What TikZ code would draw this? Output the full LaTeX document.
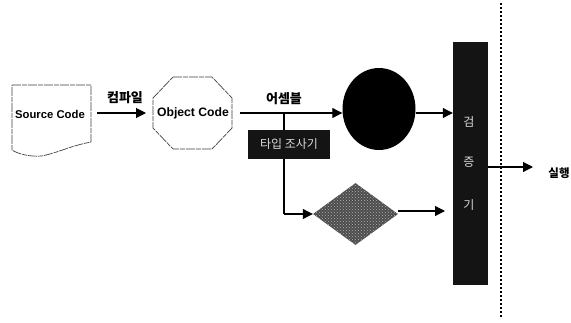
\documentclass[tikz,border=0pt]{standalone}
\usepackage{fontspec}
\setmainfont{Liberation Sans}
\newfontfamily\krfont{Noto Sans CJK KR}
\usetikzlibrary{arrows.meta,shapes.geometric,patterns}
\definecolor{dith}{gray}{0.30}
\tikzset{
  x=1pt,y=-1pt,
  conn/.style={draw=black,line width=1.1pt,-{Triangle[length=10pt,width=10pt]}},
  plainconn/.style={draw=black,line width=1.1pt},
  thinedge/.style={draw=black!75,line width=0.7pt,dash pattern=on 9pt off 1pt on 5pt off 1pt},
  lab/.style={font=\fontsize{11.4}{12}\selectfont\bfseries,inner sep=0pt},
  klab/.style={font=\krfont\fontsize{13}{14}\selectfont\bfseries,inner sep=0pt},
  barlab/.style={inner sep=0pt,text=white!85!black,font=\krfont\fontsize{12}{13}\selectfont},
}
\begin{document}
\begin{tikzpicture}
\useasboundingbox (0,0) rectangle (571,322);
\fill[white] (0,0) rectangle (571,322);
% Source document
\draw[thinedge,line join=round] (12,85) -- (91,85) -- (91,142) .. controls (70,146) and (60,152) .. (42,156) .. controls (30,157) and (18,154) .. (12,150) -- cycle;
\node[lab,font=\fontsize{11.3}{12}\selectfont\bfseries] (src) at (50,114) {Source Code};
\coordinate (srcR) at (97,113);
% Object code octagon
\draw[thinedge] (173,77) -- (212,77) -- (232,98) -- (232,128) -- (212,149) -- (173,149) -- (153,128) -- (153,98) -- cycle;
\node[lab,font=\fontsize{12.2}{13}\selectfont\bfseries] (obj) at (193,113) {Object Code};
\coordinate (objL) at (146,113);
\coordinate (objR) at (240,113);
% circle
\node[ellipse,fill=black,minimum width=73pt,minimum height=82pt,inner sep=0pt] (circ) at (379,109) {};
% verifier bar
\node[rectangle,fill=black!92,minimum width=35pt,minimum height=243pt,inner sep=0pt] (bar) at (470.5,163.5) {};
\node[barlab] (v1) at (469,122) {검};
\node[barlab] (v2) at (469,162) {증};
\node[barlab] (v3) at (469,205) {기};
% Diamond
\node[diamond,aspect=1.37,fill=dith,postaction={pattern=crosshatch dots,pattern color=white!70!black},minimum width=85pt,minimum height=62pt,inner sep=0pt] (dia) at (355.5,214) {};
% Junction and lines
\coordinate (j) at (284,113);
\coordinate (jd) at (284,214);
\draw[plainconn] (objR) -- (j);
\draw[conn] (j) -- (circ.west |- j);
\draw[conn] (circ.east |- j) -- (bar.west |- j);
\draw[plainconn] (j) -- (jd);
\draw[conn] (jd) -- (dia.west);
\coordinate (diaEnd) at (445,211);
\draw[conn] (dia.east |- diaEnd) -- (diaEnd);
% Type checker
\node[rectangle,fill=black!92,minimum width=82pt,minimum height=29pt,inner sep=0pt,text=white!85!black,font=\krfont\fontsize{12}{13}\selectfont] (tc) at (289,144.5) {타입 조사기};
% other arrows
\draw[conn] (srcR) -- (objL);
\coordinate (runEnd) at (533,167);
\draw[conn] (bar.east |- runEnd) -- (runEnd);
% dotted line
\coordinate (dotT) at (501,3);
\coordinate (dotB) at (501,318);
\draw[line width=2pt,dash pattern=on 2pt off 2pt] (dotT) -- (dotB);
% Labels
\node[klab] (l1) at (125,98) {컴파일};
\node[klab] (l2) at (284,99) {어셈블};
\node[klab,font=\krfont\fontsize{11.5}{12}\selectfont\bfseries] (l3) at (559,173) {실행};
\end{tikzpicture}
\end{document}
